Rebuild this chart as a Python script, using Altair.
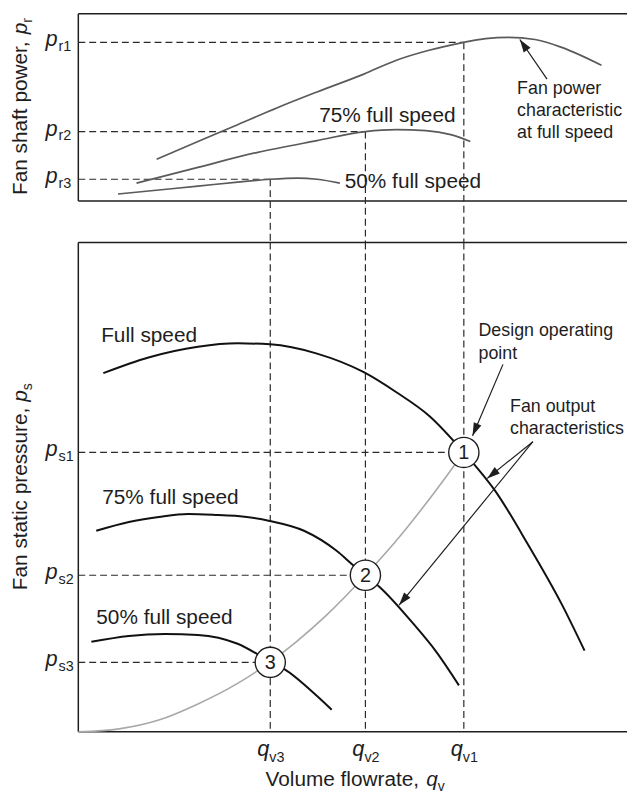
import math
import altair as alt
import pandas as pd

FONT = "Liberation Sans"
INK = "#1e1e1e"
W = 549
H_TOP = 189
H_BOT = 494
GAP = 42
Q_MAX = 100.0
PR_MAX = 97.4
PS_MAX = 100.0

# ---- operating points / reference levels ----
q_ops = [70.9, 52.8, 35.3]
q_subs = ["v1", "v2", "v3"]
pr_levels = [82.5, 36.1, 11.3]
pr_subs = ["r1", "r2", "r3"]
ps_levels = [57.1, 32.0, 14.2]
ps_subs = ["s1", "s2", "s3"]
op_names = ["1", "2", "3"]

# ---- fan shaft power curves (top panel) ----
pw_full_q = [14.4, 22.0, 29.3, 36.6, 43.9, 52.5, 58.5, 64.5, 70.9, 74.9, 79.1, 84.0, 88.9, 96.2]
pw_full_p = [21.7, 30.9, 39.7, 48.5, 56.7, 66.0, 73.2, 78.4, 82.5, 84.5, 85.1, 84.0, 79.9, 70.6]
pw_75_q = [10.7, 22.0, 33.0, 43.9, 52.8, 58.5, 63.9, 68.5, 72.1]
pw_75_p = [9.3, 17.5, 25.3, 31.4, 36.1, 37.1, 36.6, 34.5, 30.9]
pw_50_q = [7.3, 14.8, 22.0, 29.3, 35.3, 40.3, 43.9, 48.1]
pw_50_p = [3.6, 5.7, 7.7, 9.8, 11.3, 11.9, 11.3, 9.3]

# ---- fan static pressure curves (bottom panel) ----
ps_full_q = [4.6, 12.9, 22.0, 29.3, 35.3, 43.9, 52.5, 58.5, 64.5, 70.9, 76.7, 82.7, 88.9, 93.1]
ps_full_p = [73.3, 76.5, 78.7, 79.4, 79.2, 77.3, 73.5, 69.4, 64.6, 57.1, 49.2, 38.3, 26.1, 16.6]
ps_75_q = [3.3, 9.3, 14.8, 20.2, 25.7, 29.3, 35.2, 41.5, 47.5, 50.6, 52.8, 55.4, 61.6, 65.8, 70.0]
ps_75_p = [41.1, 42.9, 43.9, 44.5, 44.3, 44.1, 43.1, 41.1, 37.0, 34.0, 32.0, 29.6, 22.1, 16.4, 9.5]
ps_50_q = [2.4, 9.3, 16.0, 22.0, 29.3, 35.2, 37.9, 43.9, 46.6]
ps_50_p = [18.4, 19.6, 20.0, 19.8, 18.0, 14.4, 12.8, 7.3, 4.5]
sys_q = [0, 7.5, 14.8, 22.0, 29.3, 35.2, 40.3, 45.7, 52.8, 58.5, 63.9, 70.9]
sys_p = [0, 0.6, 2.4, 5.7, 9.9, 14.2, 18.6, 23.9, 32.0, 39.1, 46.6, 57.1]

# ---- annotations ----
top_labels = ["75% full speed", "50% full speed"]
top_labels_q = [44.3, 49.0]
top_labels_p = [41.2, 6.7]
top_note = ["Fan power\ncharacteristic\nat full speed"]
top_note_q = [80.7]
top_note_p = [55.7]
top_arrow = {"tq": [86.2], "tp": [63.4], "hq": [81.2], "hp": [84.0]}

bot_labels = ["Full speed", "75% full speed", "50% full speed"]
bot_labels_q = [4.2, 4.4, 3.3]
bot_labels_p = [79.6, 46.6, 22.1]
bot_notes = ["Design operating\npoint", "Fan output\ncharacteristics"]
bot_notes_q = [73.6, 79.4]
bot_notes_p = [80.8, 65.4]
bot_notes_lh = [23, 22]
bot_arrows = {"tq": [78.1, 83.6, 83.6], "tp": [75.1, 59.3, 59.3],
              "hq": [72.5, 75.2, 59.0], "hp": [60.5, 51.8, 25.9]}

ARROW_PATH = "M0,0L0.32,1L-0.32,1Z"

xs = alt.Scale(domain=[0, Q_MAX], nice=False, zero=False)
ys_top = alt.Scale(domain=[0, PR_MAX], nice=False, zero=False)
ys_bot = alt.Scale(domain=[0, PS_MAX], nice=False, zero=False)


def X(f):
    return alt.X(f, type="quantitative", scale=xs, axis=None)


def Y(f, sc):
    return alt.Y(f, type="quantitative", scale=sc, axis=None)


def arrow_df(d, sy):
    df = pd.DataFrame(d)
    angs = []
    for tq, tp, hq, hp in zip(df.tq, df.tp, df.hq, df.hp):
        dx = (hq - tq) * W / Q_MAX
        dy = -(hp - tp) * sy
        angs.append(math.degrees(math.atan2(dx, -dy)) % 360)
    df["ang"] = angs
    return df


def curves(*parts):
    return pd.concat([pd.DataFrame({"q": q, "p": p, "s": s}) for q, p, s in parts],
                     ignore_index=True)


def text_piece(txt, x, y, size, italic=False, angle=0):
    kw = dict(text=txt, font=FONT, fontSize=size, align="left", baseline="alphabetic",
              color=INK)
    if italic:
        kw["fontStyle"] = "italic"
    if angle:
        kw["angle"] = angle
    return alt.Chart(pd.DataFrame({"a": [0]})).mark_text(**kw).encode(
        x=alt.value(x), y=alt.value(y))


def frame(h, ext):
    base = alt.Chart(pd.DataFrame({"a": [0]}))
    st = dict(color=INK, strokeWidth=1.5)
    return [
        base.mark_rule(**st).encode(x=alt.value(0), y=alt.value(0), y2=alt.value(h)),
        base.mark_rule(**st).encode(y=alt.value(h), x=alt.value(0), x2=alt.value(ext)),
        base.mark_rule(**st).encode(y=alt.value(0), x=alt.value(0), x2=alt.value(ext)),
    ]


def ytick_layers(levels, subs, sc):
    df = pd.DataFrame({"p": levels, "sub": subs})
    c = alt.Chart(df)
    return [
        c.mark_text(text="p", font=FONT, fontStyle="italic", fontSize=22, align="right",
                    baseline="alphabetic", dy=4, color=INK).encode(
            x=alt.value(-21), y=Y("p", sc)),
        c.mark_text(font=FONT, fontSize=14.5, align="left", baseline="alphabetic", dy=9,
                    color=INK).encode(x=alt.value(-20), y=Y("p", sc), text="sub:N"),
    ]


dash = dict(color="#2a2a2a", strokeWidth=1.2, strokeDash=[7, 4])
EXT = 554

# ================= TOP PANEL =================
sy_top = H_TOP / PR_MAX
top_layers = []
top_layers.append(alt.Chart(pd.DataFrame({"a": [0]})).mark_rule(opacity=0).encode(
    x=alt.value(-71), x2=alt.value(-60), y=alt.value(-1.5), y2=alt.value(-1.5)))
top_layers += frame(H_TOP, EXT)

hdf = pd.DataFrame({"q0": [0, 0, 0], "q": q_ops, "p": pr_levels})
top_layers.append(alt.Chart(hdf).mark_rule(**dash).encode(
    x=X("q0"), x2=alt.X2("q"), y=Y("p", ys_top)))
top_layers.append(alt.Chart(hdf).mark_rule(**dash).encode(
    x=X("q"), y=Y("p", ys_top), y2=alt.value(H_TOP + GAP)))

tc = curves((pw_full_q, pw_full_p, "full"), (pw_75_q, pw_75_p, "75"), (pw_50_q, pw_50_p, "50"))
top_layers.append(alt.Chart(tc).mark_line(color="#5a5a5a", strokeWidth=1.7,
                                          interpolate="monotone").encode(
    x=X("q"), y=Y("p", ys_top), detail="s:N"))

top_layers.append(alt.Chart(pd.DataFrame({"q": top_labels_q, "p": top_labels_p, "t": top_labels}))
                  .mark_text(font=FONT, fontSize=21, align="left", baseline="alphabetic", color=INK)
                  .encode(x=X("q"), y=Y("p", ys_top), text="t:N"))
top_layers.append(alt.Chart(pd.DataFrame({"q": top_note_q, "p": top_note_p, "t": top_note}))
                  .mark_text(font=FONT, fontSize=18, align="left", baseline="alphabetic",
                             lineBreak="\n", lineHeight=22.5, color=INK)
                  .encode(x=X("q"), y=Y("p", ys_top), text="t:N"))

tad = arrow_df(top_arrow, sy_top)
top_layers.append(alt.Chart(tad).mark_rule(color=INK, strokeWidth=1.2).encode(
    x=X("tq"), y=Y("tp", ys_top), x2=alt.X2("hq"), y2=alt.Y2("hp")))
top_layers.append(alt.Chart(tad).mark_point(shape=ARROW_PATH, filled=True, color=INK, size=676,
                                            opacity=1, strokeWidth=0).encode(
    x=X("hq"), y=Y("hp", ys_top), angle=alt.Angle("ang:Q", scale=None)))

top_layers += ytick_layers(pr_levels, pr_subs, ys_top)
top_layers.append(text_piece("Fan shaft power, ", -52, 183, 21, angle=270))
top_layers.append(text_piece("p", -52, 20.8, 21, italic=True, angle=270))
top_layers.append(text_piece("r", -47, 9.1, 14, angle=270))

top = alt.layer(*top_layers).properties(width=W, height=H_TOP)

# ================= BOTTOM PANEL =================
sy_bot = H_BOT / PS_MAX
bl = []
bl += frame(H_BOT, EXT)

bdf = pd.DataFrame({"q0": [0, 0, 0], "q": q_ops, "p": ps_levels, "n": op_names, "sub": q_subs})
bl.append(alt.Chart(bdf).mark_rule(**dash).encode(
    x=X("q0"), x2=alt.X2("q"), y=Y("p", ys_bot)))
bl.append(alt.Chart(bdf).mark_rule(**dash).encode(
    x=X("q"), y=alt.value(0), y2=alt.value(H_BOT)))

sc_df = pd.DataFrame({"q": sys_q, "p": sys_p})
bl.append(alt.Chart(sc_df).mark_line(color="#a8a8a8", strokeWidth=1.6, interpolate="monotone")
          .encode(x=X("q"), y=Y("p", ys_bot)))
bc = curves((ps_full_q, ps_full_p, "full"), (ps_75_q, ps_75_p, "75"), (ps_50_q, ps_50_p, "50"))
bl.append(alt.Chart(bc).mark_line(color="#111111", strokeWidth=2, interpolate="monotone").encode(
    x=X("q"), y=Y("p", ys_bot), detail="s:N"))

bl.append(alt.Chart(bdf).mark_point(shape="circle", filled=True, fill="white", stroke=INK,
                                    strokeWidth=1.4, size=930, opacity=1)
          .encode(x=X("q"), y=Y("p", ys_bot)))
bl.append(alt.Chart(bdf).mark_text(font=FONT, fontSize=20, align="center", baseline="middle",
                                   dy=1, color=INK)
          .encode(x=X("q"), y=Y("p", ys_bot), text="n:N"))

bl.append(alt.Chart(pd.DataFrame({"q": bot_labels_q, "p": bot_labels_p, "t": bot_labels}))
          .mark_text(font=FONT, fontSize=21, align="left", baseline="alphabetic", color=INK)
          .encode(x=X("q"), y=Y("p", ys_bot), text="t:N"))
for i in range(len(bot_notes)):
    bl.append(alt.Chart(pd.DataFrame({"q": [bot_notes_q[i]], "p": [bot_notes_p[i]],
                                      "t": [bot_notes[i]]}))
              .mark_text(font=FONT, fontSize=18, align="left", baseline="alphabetic",
                         lineBreak="\n", lineHeight=bot_notes_lh[i], color=INK)
              .encode(x=X("q"), y=Y("p", ys_bot), text="t:N"))

bad = arrow_df(bot_arrows, sy_bot)
bl.append(alt.Chart(bad).mark_rule(color=INK, strokeWidth=1.2).encode(
    x=X("tq"), y=Y("tp", ys_bot), x2=alt.X2("hq"), y2=alt.Y2("hp")))
bl.append(alt.Chart(bad).mark_point(shape=ARROW_PATH, filled=True, color=INK, size=676,
                                    opacity=1, strokeWidth=0).encode(
    x=X("hq"), y=Y("hp", ys_bot), angle=alt.Angle("ang:Q", scale=None)))

bl += ytick_layers(ps_levels, ps_subs, ys_bot)
qc = alt.Chart(bdf)
bl.append(qc.mark_text(text="q", font=FONT, fontStyle="italic", fontSize=22, align="right",
                       baseline="alphabetic", dx=-1, color=INK)
          .encode(x=X("q"), y=alt.value(518)))
bl.append(qc.mark_text(font=FONT, fontSize=14.5, align="left", baseline="alphabetic", dx=-1,
                       color=INK)
          .encode(x=X("q"), y=alt.value(524), text="sub:N"))

bl.append(text_piece("Fan static pressure, ", -52, 351, 21, angle=270))
bl.append(text_piece("p", -52, 160.8, 21, italic=True, angle=270))
bl.append(text_piece("s", -47, 149.1, 14, angle=270))
bl.append(text_piece("Volume flowrate, ", 189, 549, 21))
bl.append(text_piece("q", 351.2, 549, 21, italic=True))
bl.append(text_piece("v", 362.9, 553.5, 14))

bot = alt.layer(*bl).properties(width=W, height=H_BOT)

chart = (alt.vconcat(top, bot, spacing=GAP)
         .properties(bounds="flush", padding=0)
         .configure_view(stroke=None))

chart.save("out.html", embed_options={"renderer": "svg", "actions": False})
